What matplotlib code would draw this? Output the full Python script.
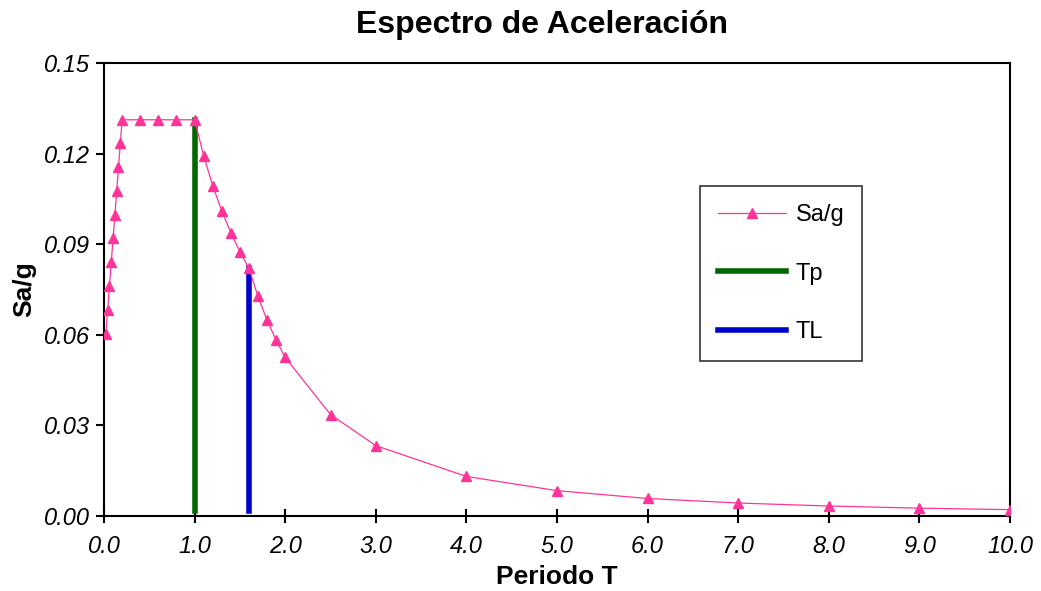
import matplotlib
matplotlib.use('Agg')
import matplotlib.pyplot as plt

# Datos del espectro
periodo = [0.02, 0.04, 0.06, 0.08, 0.10, 0.12, 0.14, 0.16, 0.18, 0.20,
           0.40, 0.60, 0.80, 1.00,
           1.10, 1.20, 1.30, 1.40, 1.50, 1.60,
           1.70, 1.80, 1.90, 2.00, 2.50, 3.00,
           4.00, 5.00, 6.00, 7.00, 8.00, 9.00, 10.00]
sa_g = [0.0604, 0.0682, 0.0761, 0.0840, 0.0919, 0.0997, 0.1076, 0.1155, 0.1234, 0.1312,
        0.1312, 0.1312, 0.1312, 0.1312,
        0.1193, 0.1094, 0.1010, 0.0938, 0.0875, 0.0820,
        0.0727, 0.0648, 0.0582, 0.0525, 0.0336, 0.0233,
        0.0131, 0.0084, 0.0058, 0.0043, 0.0033, 0.0026, 0.0021]

tp_x = [1.0, 1.0]
tp_y = [0.0015, 0.1312]
tl_x = [1.6, 1.6]
tl_y = [0.0015, 0.0820]

x_ticks = [0, 1, 2, 3, 4, 5, 6, 7, 8, 9, 10]
y_ticks = [0.00, 0.03, 0.06, 0.09, 0.12, 0.15]

plt.rcParams['font.family'] = ['Liberation Sans', 'DejaVu Sans']

fig = plt.figure(figsize=(10.41, 5.91), dpi=100)
ax = fig.add_axes([104 / 1041, 1 - 516 / 591, 906 / 1041, 453 / 591])

ax.plot(periodo, sa_g, color='#FF3399', lw=0.9, marker='^', markersize=7,
        label='Sa/g', zorder=3)
ax.plot(tp_x, tp_y, color='#006600', lw=4, label='Tp', zorder=2)
ax.plot(tl_x, tl_y, color='#0000CC', lw=4, label='TL', zorder=2)

ax.set_xlim(0, 10)
ax.set_ylim(0, 0.15)
ax.set_xticks(x_ticks)
ax.set_xticklabels([f"{v:.1f}" for v in x_ticks], fontstyle='italic', fontsize=17)
ax.set_yticks(y_ticks)
ax.set_yticklabels([f"{v:.2f}" for v in y_ticks], fontstyle='italic', fontsize=17)
ax.tick_params(axis='x', direction='inout', length=10, width=1.5, pad=9)
ax.tick_params(axis='y', direction='out', length=6, width=1.5, pad=4)
for s in ax.spines.values():
    s.set_linewidth(1.5)

# título centrado como en Excel (no sobre el área del gráfico)
fig.text(542 / 1041, 1 - 25 / 591, "Espectro de Aceleración", fontsize=23,
         fontweight='bold', ha='center', va='center')
ax.set_xlabel("Periodo T", fontsize=19, fontweight='bold', labelpad=5)
ax.set_ylabel("Sa/g", fontsize=19, fontweight='bold', labelpad=6)

leg = ax.legend(loc='upper left', bbox_to_anchor=(0.658, 0.728), fontsize=17,
                frameon=True, fancybox=False, edgecolor='black',
                handlelength=2.9, labelspacing=1.55, borderpad=0.75,
                handletextpad=0.4, borderaxespad=0)
leg.get_frame().set_linewidth(1.2)

fig.savefig('out.png', dpi=100)
